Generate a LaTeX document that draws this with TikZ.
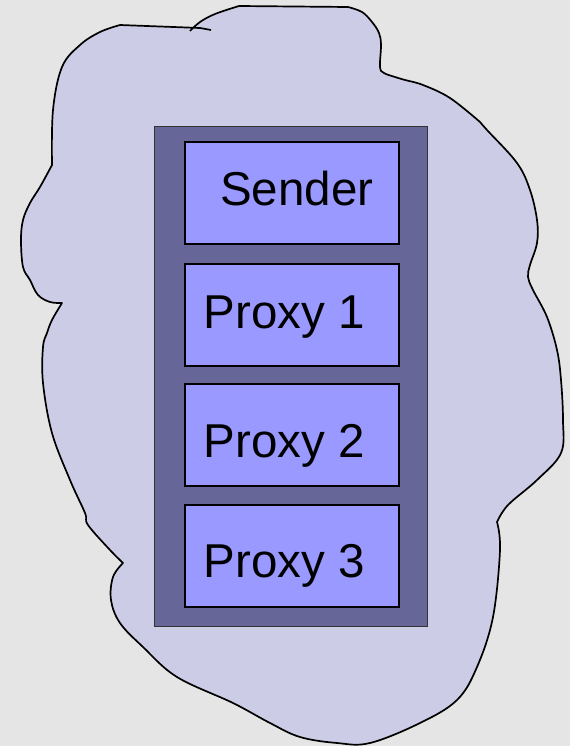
\documentclass[tikz,border=0pt]{standalone}
\usepackage{fontspec}
\setmainfont{Liberation Sans}
\definecolor{bgc}{HTML}{E5E5E5}
\definecolor{blobc}{HTML}{CCCCE6}
\definecolor{framec}{HTML}{666699}
\definecolor{boxc}{HTML}{9999FF}
\begin{document}
\begin{tikzpicture}[x=1pt,y=-1pt,
  blob/.style={draw=black,line width=1.7pt,fill=blobc,line join=round},
  frame/.style={draw=black!80,line width=1.2pt,fill=framec,rectangle,inner sep=0pt,anchor=north west},
  procbox/.style={draw=black,line width=1.7pt,fill=boxc,rectangle,inner sep=0pt,anchor=north west,minimum width=214pt,minimum height=102pt},
  lbl/.style={anchor=base west,inner sep=0pt,font=\fontsize{47.5}{52}\selectfont}]
\fill[bgc] (0,0) rectangle (570,746);
\useasboundingbox (0,0) rectangle (570,746);
% cloud outline
\draw[blob] plot[smooth,tension=0.6] coordinates {(190,31) (200,22) (215,14) (239,6)}
  -- (348,7)
  -- plot[smooth,tension=0.6] coordinates {(348,7) (362,12) (372,22) (379,33) (381,45) (380,67) (384,73) (395,77) (405,80) (423,85) (450,98) (480,122)}
  -- plot[smooth,tension=0.6] coordinates {(480,122) (487,130) (517,163) (530,190) (537,220) (537,243) (530,265) (528,277) (533,290) (547,317) (557,350) (561,380) (563,420) (561,453) (537,480) (508,505) (497,522)}
  -- plot[smooth,tension=0.6] coordinates {(497,522) (500,550) (493,617) (477,667) (457,700) (420,723) (370,743) (337,743) (300,737) (270,723) (233,703) (177,677) (143,647) (120,623) (111,600) (113,577) (123,563)}
  -- plot[smooth,tension=0.6] coordinates {(123,563) (110,550) (88,525) (85,513) (70,480) (52,433) (43,383) (43,347) (47,333) (52,320) (62,303)}
  -- plot[smooth,tension=0.6] coordinates {(62,303) (50,302) (38,295) (30,280) (23,267) (21,240) (23,220) (30,203) (40,187) (52,165)}
  -- plot[smooth,tension=0.6] coordinates {(52,165) (53,110) (62,67) (80,45) (100,32) (120,25)}
  -- (200,28) -- (211,30);
% frame and boxes
\node[frame,minimum width=273pt,minimum height=500pt] (frame) at (154,126) {};
\node[procbox] (sender) at (184,141) {};
\node[procbox] (p1) at (184,263) {};
\node[procbox] (p2) at (184,383) {};
\node[procbox] (p3) at (184,504) {};
\node[lbl] (tsender) at (220,205) {Sender};
\node[lbl] (tp1) at (203.5,328) {Proxy 1};
\node[lbl] (tp2) at (203.5,457) {Proxy 2};
\node[lbl] (tp3) at (203.5,577) {Proxy 3};
\end{tikzpicture}
\end{document}
